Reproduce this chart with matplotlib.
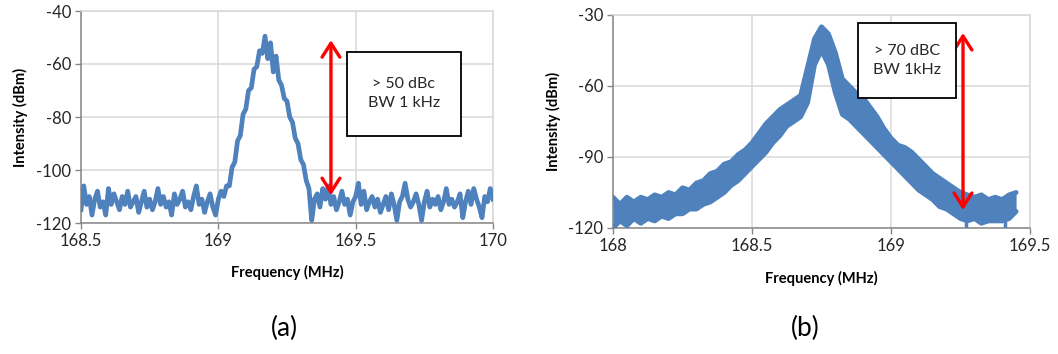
import numpy as np
import matplotlib
matplotlib.use("Agg")
import matplotlib.pyplot as plt
from matplotlib.patches import Rectangle

plt.rcParams['font.family'] = ['Lato', 'DejaVu Sans']

# ---------------- Data: panel (a) ----------------
freq_a_start, freq_a_stop = 168.50, 170.00   # MHz, 0.01 MHz steps
intensity_a = [
    -115, -106, -113, -110, -117, -111, -108, -114, -112, -117,
    -107, -113, -109, -112, -115, -110, -113, -108, -114, -112,
    -110, -116, -112, -108, -114, -111, -115, -112, -107, -113,
    -110, -114, -112, -117, -109, -113, -111, -108, -114, -112,
    -115, -110, -106, -113, -111, -116, -112, -109, -114, -117,
    -111, -108, -110, -106, -106, -99, -97, -89, -87, -79,
    -77, -70, -69, -62, -61, -55, -56, -49.5, -58, -52,
    -63, -57, -66, -68, -73, -74, -80, -82, -88, -90,
    -96, -98, -104, -107, -119, -111, -109, -114, -107, -111,
    -106, -113, -110, -115, -112, -108, -113, -111, -117, -112,
    -110, -105, -113, -108, -115, -112, -110, -114, -111, -116,
    -113, -110, -115, -109, -113, -119, -112, -110, -105, -111,
    -114, -112, -109, -113, -119, -112, -108, -114, -111, -113,
    -110, -115, -112, -107, -113, -111, -114, -112, -109, -118,
    -112, -108, -113, -107, -111, -114, -118, -110, -112, -107,
    -111,
]
xticks_a = [168.5, 169, 169.5, 170]
xticklabels_a = ["168.5", "169", "169.5", "170"]
yticks_a = [-120, -100, -80, -60, -40]
yticklabels_a = ["-120", "-100", "-80", "-60", "-40"]

# ---------------- Data: panel (b) ----------------
freq_b = [
    168.000, 168.025, 168.050, 168.075, 168.100, 168.125, 168.150, 168.175,
    168.200, 168.225, 168.250, 168.275, 168.300, 168.325, 168.350, 168.375,
    168.400, 168.425, 168.450, 168.475, 168.500, 168.525, 168.550, 168.575,
    168.600, 168.625, 168.650, 168.675, 168.700, 168.725, 168.750, 168.775,
    168.800, 168.825, 168.850, 168.875, 168.900, 168.925, 168.950, 168.975,
    169.000, 169.025, 169.050, 169.075, 169.100, 169.125, 169.150, 169.175,
    169.200, 169.225, 169.250, 169.275, 169.300, 169.325, 169.350, 169.375,
    169.400, 169.425, 169.450,
]
upper_b = [
    -107, -110, -107, -109, -107, -108, -106, -107,
    -105, -106, -103, -104, -101, -100, -97, -96,
    -93, -92, -89, -87, -84, -80, -76, -73,
    -70, -68, -66, -64, -52, -40, -35, -38,
    -46, -57, -60, -63, -65, -69, -73, -78,
    -82, -85, -86, -88, -91, -94, -97, -99,
    -101, -103, -105, -106, -107, -106, -108, -107,
    -108, -106, -105,
]
lower_b = [
    -120, -117, -119, -116, -118, -116, -117, -115,
    -116, -114, -114, -112, -112, -110, -109, -107,
    -105, -102, -100, -97, -94, -91, -88, -84,
    -81, -77, -75, -73, -67, -51, -45, -51,
    -63, -72, -74, -77, -80, -83, -86, -89,
    -92, -95, -98, -101, -104, -106, -108, -111,
    -112, -114, -116, -117, -116, -118, -117, -117,
    -117, -116, -113,
]
spike_f_b = [168.003, 169.270, 169.410]
spike_low_b = [-120.5, -121, -120.5]
xticks_b = [168, 168.5, 169, 169.5]
xticklabels_b = ["168", "168.5", "169", "169.5"]
yticks_b = [-120, -90, -60, -30]
yticklabels_b = ["-120", "-90", "-60", "-30"]

LINE = "#4F81BD"
GRID = "#d9d9d9"
AXC = "#868686"
TXT = "#262626"

fig = plt.figure(figsize=(10.58, 3.54), dpi=100)
W, H = 1058, 354
ax1 = fig.add_axes([81 / W, 1 - 223 / H, 412 / W, 212 / H])
ax2 = fig.add_axes([613 / W, 1 - 228 / H, 417 / W, 213 / H])


def style(ax, xt, xtl, yt, ytl):
    ax.set_xticks(xt)
    ax.set_xticklabels(xtl)
    ax.set_yticks(yt)
    ax.set_yticklabels(ytl)
    ax.grid(True, color=GRID, lw=1.1, zorder=0)
    ax.set_axisbelow(True)
    for s in ["top", "right"]:
        ax.spines[s].set_color(GRID)
        ax.spines[s].set_linewidth(1.1)
    for s in ["left", "bottom"]:
        ax.spines[s].set_color(AXC)
        ax.spines[s].set_linewidth(1.1)
    ax.tick_params(axis="both", length=4, width=1.0, color=AXC,
                   labelsize=12, labelcolor=TXT, pad=3)


# ---- panel (a)
fa = np.linspace(freq_a_start, freq_a_stop, len(intensity_a))
ax1.plot(fa, intensity_a, color=LINE, lw=3.4, solid_joinstyle="round", zorder=3)
ax1.set_xlim(168.5, 170)
ax1.set_ylim(-120, -40)
style(ax1, xticks_a, xticklabels_a, yticks_a, yticklabels_a)
ax1.annotate("", xy=(169.41, -51), xytext=(169.41, -109.5),
             arrowprops=dict(arrowstyle="<->,head_length=0.5,head_width=0.32",
                             color="#ff0000", lw=2.4, mutation_scale=20,
                             shrinkA=0, shrinkB=0), zorder=5)
ax1.add_patch(Rectangle((169.467, -87.2), 0.415, 31.7, facecolor="white",
                        edgecolor="black", lw=1.3, zorder=6))
ax1.text(169.6745, -71.3, "> 50 dBc\nBW 1 kHz", ha="center", va="center",
         fontsize=11.5, color=TXT, linespacing=1.45, zorder=7)

# ---- panel (b)
fb = np.array(freq_b)
ax2.fill_between(fb, lower_b, upper_b, color=LINE, lw=0, zorder=3)
ax2.plot(fb, upper_b, color=LINE, lw=3.5, solid_joinstyle="round",
         solid_capstyle="round", zorder=3)
ax2.plot(fb, lower_b, color=LINE, lw=3.5, solid_joinstyle="round",
         solid_capstyle="round", zorder=3)
low_at_spikes = np.interp(spike_f_b, fb, lower_b)
ax2.vlines(spike_f_b, spike_low_b, low_at_spikes, color=LINE, lw=2.5, zorder=3)
ax2.set_xlim(168, 169.5)
ax2.set_ylim(-120, -30)
style(ax2, xticks_b, xticklabels_b, yticks_b, yticklabels_b)
ax2.annotate("", xy=(169.259, -37.6), xytext=(169.259, -112.4),
             arrowprops=dict(arrowstyle="<->,head_length=0.5,head_width=0.32",
                             color="#ff0000", lw=2.4, mutation_scale=20,
                             shrinkA=0, shrinkB=0), zorder=5)
ax2.add_patch(Rectangle((168.881, -65.1), 0.353, 31.7, facecolor="white",
                        edgecolor="black", lw=1.3, zorder=6))
ax2.text(169.0575, -49.2, "> 70 dBC\nBW 1kHz", ha="center", va="center",
         fontsize=11.5, color=TXT, linespacing=1.45, zorder=7)

# ---- labels
fig.text(20 / W, 1 - 117 / H, "Intensity (dBm)", rotation=90, ha="center",
         va="center", fontsize=10.5, fontweight="bold", color="black")
fig.text(553 / W, 1 - 121 / H, "Intensity (dBm)", rotation=90, ha="center",
         va="center", fontsize=10.5, fontweight="bold", color="black")
fig.text(287 / W, 1 - 272 / H, "Frequency (MHz)", ha="center", va="center",
         fontsize=10.5, fontweight="bold", color="black")
fig.text(821 / W, 1 - 278 / H, "Frequency (MHz)", ha="center", va="center",
         fontsize=10.5, fontweight="bold", color="black")
fig.text(284 / W, 1 - 328 / H, "(a)", ha="center", va="center",
         fontsize=19, color="black")
fig.text(805 / W, 1 - 328 / H, "(b)", ha="center", va="center",
         fontsize=19, color="black")

fig.savefig("out.png", dpi=100)
